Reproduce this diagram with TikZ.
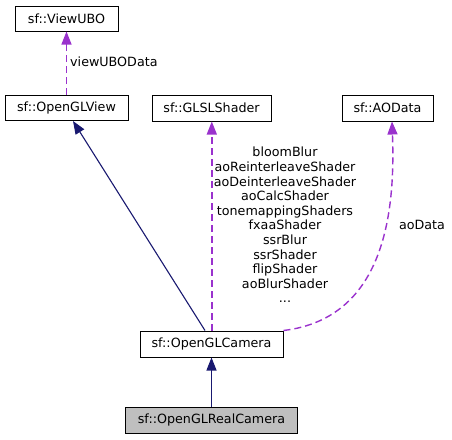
\documentclass[tikz,border=0pt]{standalone}
\usepackage{fontspec}
\setmainfont{DejaVu Sans}
\usepackage{tikz}
\usetikzlibrary{
    positioning,
    arrows.meta
}
\definecolor{relpurple}{HTML}{9A32CD}
\definecolor{relblue}{HTML}{191970}
\tikzset{
    >={Triangle[length=13pt,width=10pt]},
    clase/.style={
        draw,
        line width=1pt,
        minimum height=26pt,
        inner sep=0pt
    },
    herencia/.style={relblue, line width=1.1pt},
    uso/.style={relpurple, line width=1.4pt, dash pattern=on 7pt off 4pt},
    etiqueta/.style={inner sep=0pt, align=center}
}

\begin{document}
\begin{tikzpicture}[
    x=1pt, y=-1pt,
    font=\fontsize{12.7pt}{14.6pt}\selectfont
]
    \useasboundingbox (0,0) rectangle (452,439);

    % Clases
    \node[clase, minimum width=103pt, minimum height=25pt] (viewubo) at (66.5,18.5) {sf::ViewUBO};
    \node[clase, minimum width=123pt, minimum height=25pt] (glview)  at (66.5,108)  {sf::OpenGLView};
    \node[clase, minimum width=119pt] (glsl)    at (211.5,108) {sf::GLSLShader};
    \node[clase, minimum width=91pt]  (aodata)  at (387.5,108) {sf::AOData};
    \node[clase, minimum width=143pt] (camera)  at (211.5,344) {sf::OpenGLCamera};
    \node[clase, minimum width=172pt, fill=gray!50] (realcam) at (211.5,420) {sf::OpenGLRealCamera};

    % Relaciones
    \path[->]
        (glview.north)
            edge[uso] (viewubo.south)
        ([xshift=-6.5pt]camera.north)
            edge[herencia] ([xshift=6.5pt]glview.south)
        (realcam.north)
            edge[herencia] (camera.south);

    \draw[uso, ->] ([xshift=0.3pt]camera.north) -- ([xshift=0.3pt]glsl.south);

    \draw[uso, ->] (camera.north east)
        .. controls (388,318) and (395,205) .. ([xshift=4.5pt]aodata.south);

    % Etiquetas
    \node[etiqueta, anchor=west] (lviewubo) at (70,62) {viewUBOData};
    \node[etiqueta] (lglsl) at (285,225) {bloomBlur\\aoReinterleaveShader\\aoDeinterleaveShader\\aoCalcShader\\tonemappingShaders\\fxaaShader\\ssrBlur\\ssrShader\\flipShader\\aoBlurShader\\...};
    \node[etiqueta] (laodata) at (422,225) {aoData};

\end{tikzpicture}
\end{document}
